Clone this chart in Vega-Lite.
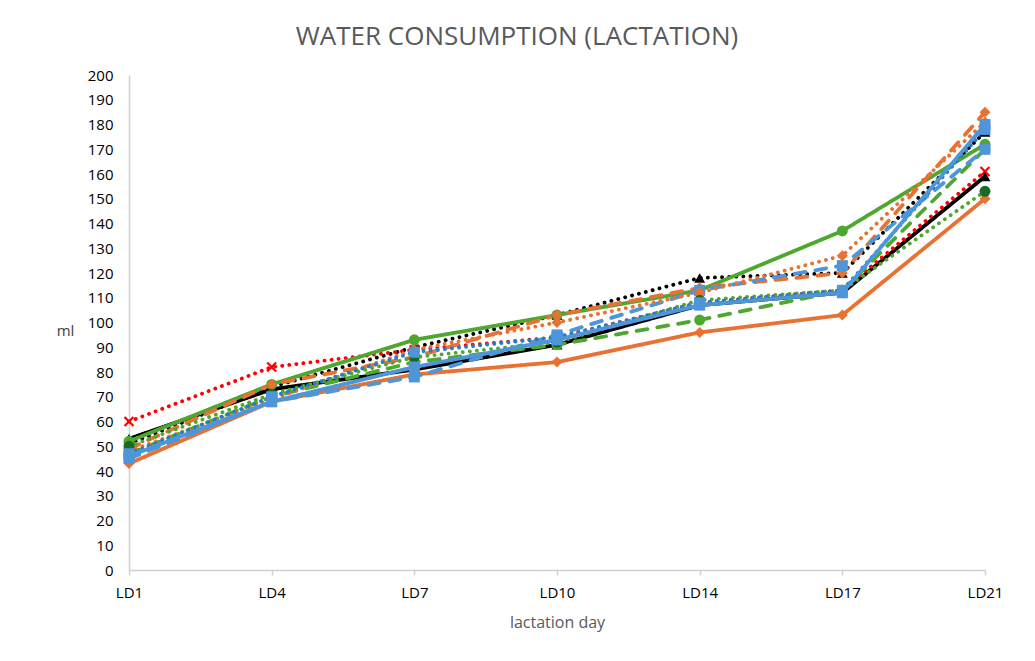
{
  "$schema": "https://vega.github.io/schema/vega-lite/v6.json",
  "width": 856,
  "height": 495,
  "autosize": {"type": "none"},
  "padding": {"left": 129, "top": 75, "right": 50, "bottom": 91},
  "background": "white",
  "title": {
    "text": "WATER CONSUMPTION (LACTATION)",
    "fontSize": 26,
    "font": "Open Sans",
    "fontWeight": "normal",
    "color": "#595959",
    "offset": 18,
    "dx": -40
  },
  "data": {
    "values": [
      {"series": "S1", "day": "LD1", "ml": 53}, {"series": "S1", "day": "LD4", "ml": 73}, {"series": "S1", "day": "LD7", "ml": 81}, {"series": "S1", "day": "LD10", "ml": 91}, {"series": "S1", "day": "LD14", "ml": 107}, {"series": "S1", "day": "LD17", "ml": 112}, {"series": "S1", "day": "LD21", "ml": 159},
      {"series": "S2", "day": "LD1", "ml": 51}, {"series": "S2", "day": "LD4", "ml": 74}, {"series": "S2", "day": "LD7", "ml": 90}, {"series": "S2", "day": "LD10", "ml": 103}, {"series": "S2", "day": "LD14", "ml": 118}, {"series": "S2", "day": "LD17", "ml": 120}, {"series": "S2", "day": "LD21", "ml": 177},
      {"series": "S3", "day": "LD1", "ml": 60}, {"series": "S3", "day": "LD4", "ml": 82}, {"series": "S3", "day": "LD7", "ml": 89}, {"series": "S3", "day": "LD10", "ml": 94}, {"series": "S3", "day": "LD14", "ml": 108}, {"series": "S3", "day": "LD17", "ml": 113}, {"series": "S3", "day": "LD21", "ml": 161},
      {"series": "S4", "day": "LD1", "ml": 52}, {"series": "S4", "day": "LD4", "ml": 75}, {"series": "S4", "day": "LD7", "ml": 93}, {"series": "S4", "day": "LD10", "ml": 103}, {"series": "S4", "day": "LD14", "ml": 113}, {"series": "S4", "day": "LD17", "ml": 137}, {"series": "S4", "day": "LD21", "ml": 172},
      {"series": "S5", "day": "LD1", "ml": 43}, {"series": "S5", "day": "LD4", "ml": 68}, {"series": "S5", "day": "LD7", "ml": 79}, {"series": "S5", "day": "LD10", "ml": 84}, {"series": "S5", "day": "LD14", "ml": 96}, {"series": "S5", "day": "LD17", "ml": 103}, {"series": "S5", "day": "LD21", "ml": 150},
      {"series": "S7", "day": "LD1", "ml": 49}, {"series": "S7", "day": "LD4", "ml": 75}, {"series": "S7", "day": "LD7", "ml": 86}, {"series": "S7", "day": "LD10", "ml": 103}, {"series": "S7", "day": "LD14", "ml": 114}, {"series": "S7", "day": "LD17", "ml": 120}, {"series": "S7", "day": "LD21", "ml": 185},
      {"series": "S8", "day": "LD1", "ml": 47}, {"series": "S8", "day": "LD4", "ml": 70}, {"series": "S8", "day": "LD7", "ml": 84}, {"series": "S8", "day": "LD10", "ml": 91}, {"series": "S8", "day": "LD14", "ml": 101}, {"series": "S8", "day": "LD17", "ml": 113}, {"series": "S8", "day": "LD21", "ml": 170},
      {"series": "S9", "day": "LD1", "ml": 45}, {"series": "S9", "day": "LD4", "ml": 68}, {"series": "S9", "day": "LD7", "ml": 78}, {"series": "S9", "day": "LD10", "ml": 95}, {"series": "S9", "day": "LD14", "ml": 113}, {"series": "S9", "day": "LD17", "ml": 123}, {"series": "S9", "day": "LD21", "ml": 170},
      {"series": "S10", "day": "LD1", "ml": 48}, {"series": "S10", "day": "LD4", "ml": 69}, {"series": "S10", "day": "LD7", "ml": 89}, {"series": "S10", "day": "LD10", "ml": 100}, {"series": "S10", "day": "LD14", "ml": 112}, {"series": "S10", "day": "LD17", "ml": 127}, {"series": "S10", "day": "LD21", "ml": 181},
      {"series": "S11", "day": "LD1", "ml": 50}, {"series": "S11", "day": "LD4", "ml": 71}, {"series": "S11", "day": "LD7", "ml": 86}, {"series": "S11", "day": "LD10", "ml": 92}, {"series": "S11", "day": "LD14", "ml": 109}, {"series": "S11", "day": "LD17", "ml": 113}, {"series": "S11", "day": "LD21", "ml": 153},
      {"series": "S12", "day": "LD1", "ml": 47}, {"series": "S12", "day": "LD4", "ml": 70}, {"series": "S12", "day": "LD7", "ml": 88}, {"series": "S12", "day": "LD10", "ml": 94}, {"series": "S12", "day": "LD14", "ml": 108}, {"series": "S12", "day": "LD17", "ml": 113}, {"series": "S12", "day": "LD21", "ml": 178},
      {"series": "S6", "day": "LD1", "ml": 46}, {"series": "S6", "day": "LD4", "ml": 68}, {"series": "S6", "day": "LD7", "ml": 82}, {"series": "S6", "day": "LD10", "ml": 93}, {"series": "S6", "day": "LD14", "ml": 107}, {"series": "S6", "day": "LD17", "ml": 112}, {"series": "S6", "day": "LD21", "ml": 180}
    ]
  },
  "encoding": {
    "x": {
      "field": "day",
      "type": "ordinal",
      "sort": ["LD1", "LD4", "LD7", "LD10", "LD14", "LD17", "LD21"],
      "scale": {"type": "point", "padding": 0},
      "axis": {
        "title": "lactation day",
        "titleFont": "Open Sans",
        "titleFontSize": 16,
        "titleFontWeight": "normal",
        "titleColor": "#595959",
        "titlePadding": 14,
        "labelAngle": 0,
        "labelFont": "Open Sans",
        "labelFontSize": 15,
        "labelColor": "#000000",
        "labelPadding": 10,
        "domainColor": "#D0D0D0",
        "domainWidth": 1.5,
        "tickColor": "#D0D0D0",
        "tickWidth": 1.5,
        "tickSize": 5,
        "grid": false
      }
    },
    "y": {
      "field": "ml",
      "type": "quantitative",
      "scale": {"domain": [0, 200], "nice": false},
      "axis": {
        "title": "ml",
        "titleAngle": 0,
        "titleX": -64,
        "titleY": 263,
        "titleAlign": "center",
        "titleFont": "Open Sans",
        "titleFontSize": 15,
        "titleFontWeight": "normal",
        "titleColor": "#404040",
        "values": [0, 10, 20, 30, 40, 50, 60, 70, 80, 90, 100, 110, 120, 130, 140, 150, 160, 170, 180, 190, 200],
        "labelFont": "Open Sans",
        "labelFontSize": 15,
        "labelColor": "#000000",
        "labelPadding": 16,
        "domainColor": "#D0D0D0",
        "domainWidth": 1.5,
        "ticks": false,
        "grid": false
      }
    }
  },
  "layer": [
    {
      "mark": {"type": "line", "strokeWidth": 3.8, "strokeCap": "round", "strokeJoin": "round"},
      "encoding": {
        "detail": {"field": "series"},
        "color": {
          "field": "series",
          "type": "nominal",
          "legend": null,
          "scale": {
            "domain": ["S1", "S2", "S3", "S4", "S5", "S6", "S7", "S8", "S9", "S10", "S11", "S12"],
            "range": ["#000000", "#000000", "#FF0000", "#4EA72E", "#E97132", "#4E95D9", "#E97132", "#4EA72E", "#4E95D9", "#E97132", "#4EA72E", "#1F7FCF"]
          }
        },
        "strokeDash": {
          "field": "series",
          "type": "nominal",
          "legend": null,
          "scale": {
            "domain": ["S1", "S2", "S3", "S4", "S5", "S6", "S7", "S8", "S9", "S10", "S11", "S12"],
            "range": [[1, 0], [0.1, 7], [0.1, 7], [1, 0], [1, 0], [1, 0], [11, 10], [11, 10], [11, 10], [0.1, 7], [0.1, 7], [0.1, 7]]
          }
        }
      }
    },
    {
      "transform": [{"filter": "datum.series == 'S3'"}],
      "mark": {
        "type": "point",
        "shape": "M-1,-1L1,1M-1,1L1,-1",
        "filled": false,
        "color": "#FF0000",
        "strokeWidth": 2.2,
        "size": 80,
        "opacity": 1
      }
    },
    {
      "transform": [{"filter": "datum.series != 'S3'"}],
      "mark": {"type": "point", "filled": true, "opacity": 1, "size": 120},
      "encoding": {
        "color": {
          "field": "series",
          "type": "nominal",
          "legend": null,
          "scale": {
            "domain": ["S1", "S2", "S4", "S5", "S6", "S7", "S8", "S9", "S10", "S11", "S12"],
            "range": ["#000000", "#000000", "#4EA72E", "#E97132", "#4E95D9", "#E97132", "#4EA72E", "#4E95D9", "#E97132", "#196B24", "#4E95D9"]
          }
        },
        "shape": {
          "field": "series",
          "type": "nominal",
          "legend": null,
          "scale": {
            "domain": ["S1", "S2", "S4", "S5", "S6", "S7", "S8", "S9", "S10", "S11", "S12"],
            "range": ["triangle-up", "triangle-up", "circle", "diamond", "square", "diamond", "circle", "square", "diamond", "circle", "square"]
          }
        }
      }
    }
  ],
  "resolve": {"scale": {"color": "independent"}},
  "config": {
    "view": {"stroke": null},
    "font": "Open Sans"
  }
}
